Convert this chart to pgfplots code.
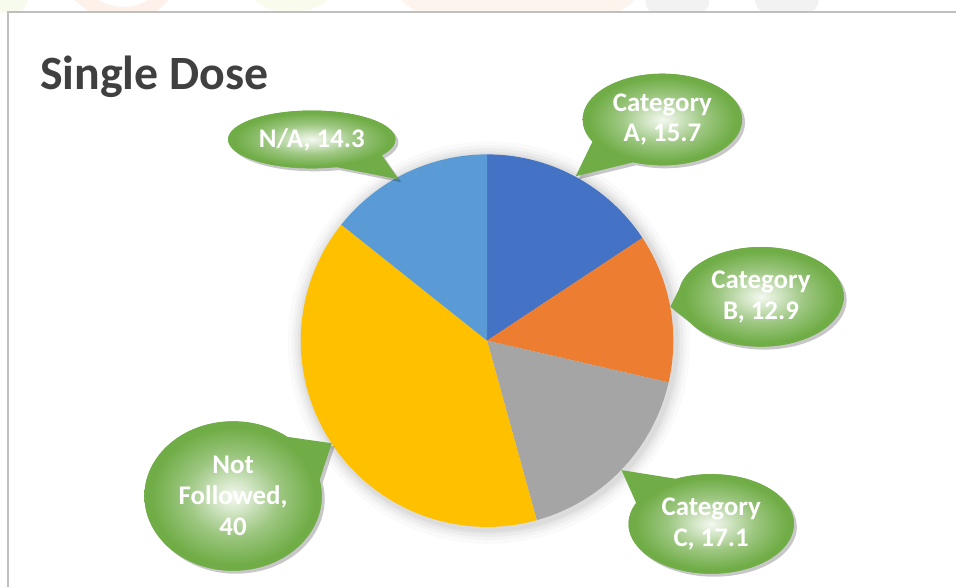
\documentclass[border=0pt]{standalone}
\usepackage{pgfplots}
\pgfplotsset{compat=1.18}
\usepackage{fontspec}
\setmainfont{Carlito}
\usetikzlibrary{shapes.callouts,shapes.geometric,shadows}
\definecolor{cA}{HTML}{4472C4}
\definecolor{cB}{HTML}{ED7D31}
\definecolor{cC}{HTML}{A5A5A5}
\definecolor{cNF}{HTML}{FFC000}
\definecolor{cNA}{HTML}{5B9BD5}
\definecolor{cG}{HTML}{70AD47}
\definecolor{cTitle}{HTML}{404040}
\pgfdeclareradialshading{glow}{\pgfpointorigin}{color(0bp)=(white!92!cG); color(5bp)=(white!70!cG); color(13bp)=(white!32!cG); color(23bp)=(cG); color(50bp)=(cG)}
% values (percent): Category A 15.7, Category B 12.9, Category C 17.1, Not Followed 40, N/A 14.3
\newcommand{\callout}[7]{% center x, center y, width, height, tip x, tip y, text
  \node[ellipse callout, fill=cG, draw=none, inner sep=0pt, minimum width=#3, minimum height=#4,
        callout pointer arc=40,
        callout absolute pointer={(axis cs:#5,#6)},
        drop shadow={shadow xshift=1.5pt, shadow yshift=-1.5pt, opacity=0.22, fill=black}] at (axis cs:#1,#2) {};
  \node[ellipse, shading=glow, draw=none, inner sep=0pt, minimum width=#3, minimum height=#4] at (axis cs:#1,#2) {};
  \node[align=center, text=white, font=\bfseries\fontsize{13.5}{15.5}\selectfont] at (axis cs:#1,#2) {#7};
}
\begin{document}
\begin{tikzpicture}
\begin{axis}[width=478.5pt, height=292pt, scale only axis, hide axis,
  xmin=0, xmax=957, ymin=0, ymax=584, clip=false]
\fill[white] (axis cs:0,0) rectangle (axis cs:957,584);
% faint watermark above the chart frame
\begin{scope}
\clip (axis cs:0,571) rectangle (axis cs:957,584);
\fill[yellow!60!green, opacity=0.08] (axis cs:5,590) ellipse[x radius=12pt, y radius=12pt];
\draw[cB, opacity=0.1, line width=7pt] (axis cs:70,600) .. controls (axis cs:100,560) and (axis cs:150,560) .. (axis cs:172,600);
\fill[yellow!70!green, opacity=0.08] (axis cs:292,592) ellipse[x radius=20pt, y radius=10pt];
\fill[cB, opacity=0.08] (axis cs:520,600) ellipse[x radius=62pt, y radius=24pt];
\fill[black, opacity=0.05] (axis cs:680,582) ellipse[x radius=16pt, y radius=9pt];
\fill[black, opacity=0.05] (axis cs:790,584) ellipse[x radius=16pt, y radius=10pt];
\end{scope}
\draw[black!25, line width=0.8pt] (axis cs:8,-5) -- (axis cs:8,572) -- (axis cs:960,572);
% soft halo around the pie
\fill[black, opacity=0.02] (axis cs:491,240) circle[radius=101pt];
\fill[black, opacity=0.025] (axis cs:491,240) circle[radius=99pt];
\fill[black, opacity=0.03] (axis cs:491,240) circle[radius=97.5pt];
\fill[black, opacity=0.03] (axis cs:491,240) circle[radius=96pt];
\fill[black, opacity=0.03] (axis cs:491,240) circle[radius=95pt];
% slices, clockwise from 12 o'clock (angle = 3.6 * value)
\addplot[draw=none, fill=cA, domain=33.48:90, samples=60, variable=\t]
  ({489+187*cos(\t)},{242+187*sin(\t)}) -- (axis cs:489,242) -- cycle;
\addplot[draw=none, fill=cB, domain=-12.96:33.48, samples=60, variable=\t]
  ({489+187*cos(\t)},{242+187*sin(\t)}) -- (axis cs:489,242) -- cycle;
\addplot[draw=none, fill=cC, domain=-74.52:-12.96, samples=60, variable=\t]
  ({489+187*cos(\t)},{242+187*sin(\t)}) -- (axis cs:489,242) -- cycle;
\addplot[draw=none, fill=cNF, domain=-218.52:-74.52, samples=120, variable=\t]
  ({489+187*cos(\t)},{242+187*sin(\t)}) -- (axis cs:489,242) -- cycle;
\addplot[draw=none, fill=cNA, domain=90:141.48, samples=60, variable=\t]
  ({489+187*cos(\t)},{242+187*sin(\t)}) -- (axis cs:489,242) -- cycle;
% data callouts
\callout{665}{464}{80pt}{46pt}{578}{407}{Category\\A, 15.7}
\callout{764}{286}{83pt}{50pt}{673}{276}{Category\\B, 12.9}
\callout{714}{58}{83pt}{50pt}{624}{112}{Category\\C, 17.1}
\callout{234}{86}{89pt}{75pt}{333}{139}{Not\\Followed,\\40}
\callout{313}{444}{84pt}{29pt}{400}{404}{N/A, 14.3}
% title
\node[anchor=base west, text=cTitle, font=\bfseries\fontsize{24}{28}\selectfont, inner sep=0pt] at (axis cs:40,494) {Single Dose};
\end{axis}
\end{tikzpicture}
\end{document}
